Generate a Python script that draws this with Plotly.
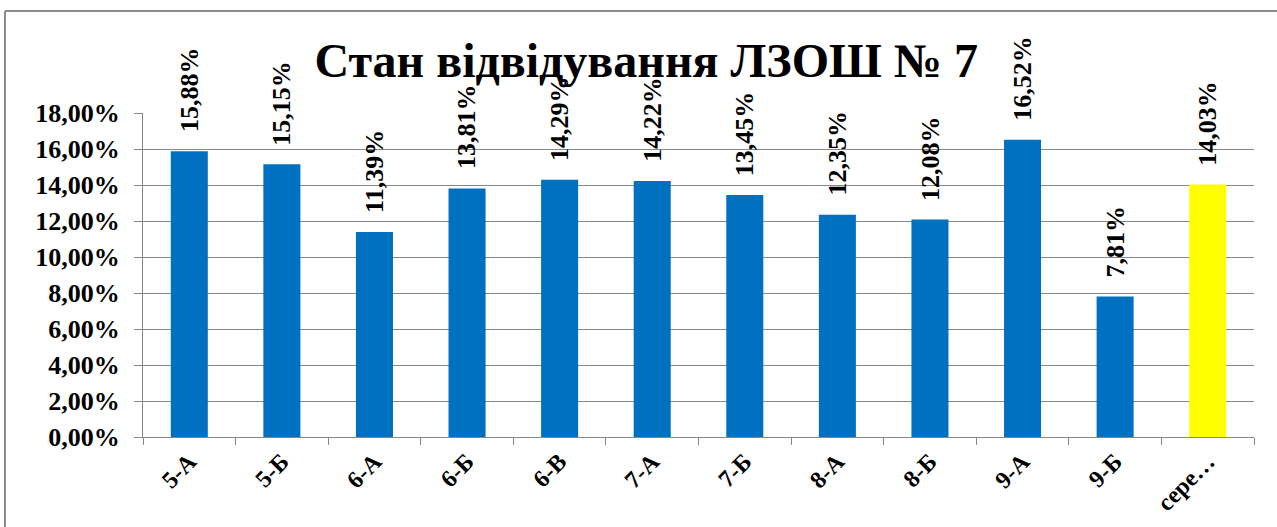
import plotly.graph_objects as go

categories = ["5-А", "5-Б", "6-А", "6-Б", "6-В", "7-А", "7-Б", "8-А", "8-Б", "9-А", "9-Б", "сере…"]
values = [0.1588, 0.1515, 0.1139, 0.1381, 0.1429, 0.1422, 0.1345, 0.1235, 0.1208, 0.1652, 0.0781, 0.1403]
bar_colors = ["#0070C0"] * 11 + ["#FFFF00"]
labels = [f"{v*100:.2f}%".replace(".", ",") for v in values]
y_ticks = [0, 0.02, 0.04, 0.06, 0.08, 0.10, 0.12, 0.14, 0.16, 0.18]

SERIF = "Liberation Serif, Times New Roman, serif"

W, H = 1277, 527
L, R, T, B = 143, 23, 113, 90
pw, ph = W - L - R, H - T - B

def px_x(x):
    return (x - L) / pw

def px_y(y):
    return (H - B - y) / ph

fig = go.Figure(go.Bar(
    x=categories, y=values,
    marker=dict(color=bar_colors, line=dict(width=0)),
    cliponaxis=False,
    hoverinfo="skip",
))

annotations = [
    dict(x=c, y=v, xref="x", yref="y", text=t, textangle=-90, showarrow=False,
         xanchor="center", yanchor="bottom", yshift=17,
         font=dict(family=SERIF, size=26, color="#000000", weight="bold"))
    for c, v, t in zip(categories, values, labels)
]

fig.update_layout(
    width=W, height=H,
    margin=dict(l=L, r=R, t=T, b=B, pad=0),
    paper_bgcolor="white", plot_bgcolor="white",
    separators=",.",
    bargap=0.6,
    showlegend=False,
    title=dict(text="<b>Стан відвідування ЛЗОШ № 7</b>", x=0.506, xref="container",
               y=1 - 60 / H, yref="container", xanchor="center", yanchor="middle",
               font=dict(family=SERIF, size=48, color="#000000")),
    xaxis=dict(
        type="category", showgrid=False, showline=True, linecolor="#878787", linewidth=1,
        ticks="outside", tickson="boundaries", ticklen=7, tickcolor="#878787",
        tickangle=-45, tickfont=dict(family=SERIF, size=24, color="#000000", weight="bold"),
        fixedrange=True, automargin=False,
    ),
    yaxis=dict(
        range=[0, 0.18], tickvals=y_ticks, tickformat=".2%",
        showgrid=True, gridcolor="#878787", gridwidth=1,
        showline=True, linecolor="#878787", linewidth=1,
        ticks="outside", ticklen=8, tickcolor="#878787", ticklabelstandoff=9,
        tickfont=dict(family=SERIF, size=26, color="#000000", weight="bold"),
        zeroline=False, fixedrange=True, automargin=False,
    ),
    annotations=annotations,
    shapes=[
        dict(type="line", xref="paper", yref="paper", x0=px_x(5), x1=px_x(5), y0=px_y(11), y1=px_y(H + 5),
             line=dict(color="#8C8C8C", width=2)),
        dict(type="line", xref="paper", yref="paper", x0=px_x(5), x1=px_x(W), y0=px_y(11), y1=px_y(11),
             line=dict(color="#8C8C8C", width=2)),
    ],
)

fig.write_html("out.html", config={"displayModeBar": False},
               post_script="document.body.style.margin='0';document.body.style.overflow='hidden';")
